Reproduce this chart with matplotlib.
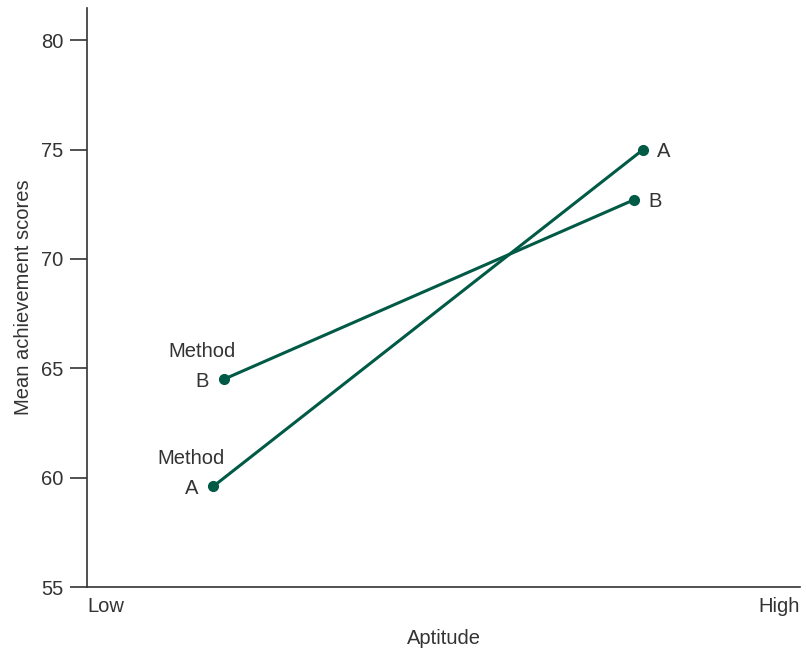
import matplotlib
matplotlib.use('Agg')
import matplotlib.pyplot as plt

plt.rcParams['font.family'] = ['Liberation Sans', 'DejaVu Sans']
plt.rcParams['font.size'] = 14.5

# aptitude position (0 = low end of axis, 1 = high end)
x_low = {'A': 0.177, 'B': 0.192}
x_high = {'A': 0.780, 'B': 0.767}
scores = {'A': [59.6, 75.0], 'B': [64.5, 72.7]}
methods = ['A', 'B']

green = '#005a46'
textc = '#333333'

fig = plt.figure(figsize=(8.06, 6.5), dpi=100)
ax = fig.add_axes([0.108, 0.0969, 0.8846, 0.8908])

for m in methods:
    xs = [x_low[m], x_high[m]]
    ax.plot(xs, scores[m], color=green, lw=2.2, marker='o', ms=7, zorder=3)
    ax.annotate(m, (xs[0], scores[m][0]), xytext=(-15, -2), textcoords='offset pixels',
                ha='right', va='center', color=textc)
    ax.annotate('Method', (xs[0], scores[m][0]), xytext=(-22, 28), textcoords='offset pixels',
                ha='center', va='center', color=textc)
    ax.annotate(m, (xs[1], scores[m][1]), xytext=(14, -2), textcoords='offset pixels',
                ha='left', va='center', color=textc)

ax.set_xlim(0, 1)
ax.set_ylim(55, 81.47)
ax.set_yticks([55, 60, 65, 70, 75, 80])
ax.set_xticks([])
ax.text(0, -0.018, 'Low', transform=ax.transAxes, ha='left', va='top', color=textc)
ax.text(1.0, -0.018, 'High', transform=ax.transAxes, ha='right', va='top', color=textc)

for s in ['top', 'right']:
    ax.spines[s].set_visible(False)
for s in ['left', 'bottom']:
    ax.spines[s].set_color('#333333')
    ax.spines[s].set_linewidth(1.2)
ax.tick_params(axis='y', length=12, width=1.2, color='#333333', labelcolor=textc, pad=5)

ax.set_ylabel('Mean achievement scores', color=textc, labelpad=6)
ax.set_xlabel('Aptitude', color=textc, labelpad=30)

fig.savefig('out.png', dpi=100)
